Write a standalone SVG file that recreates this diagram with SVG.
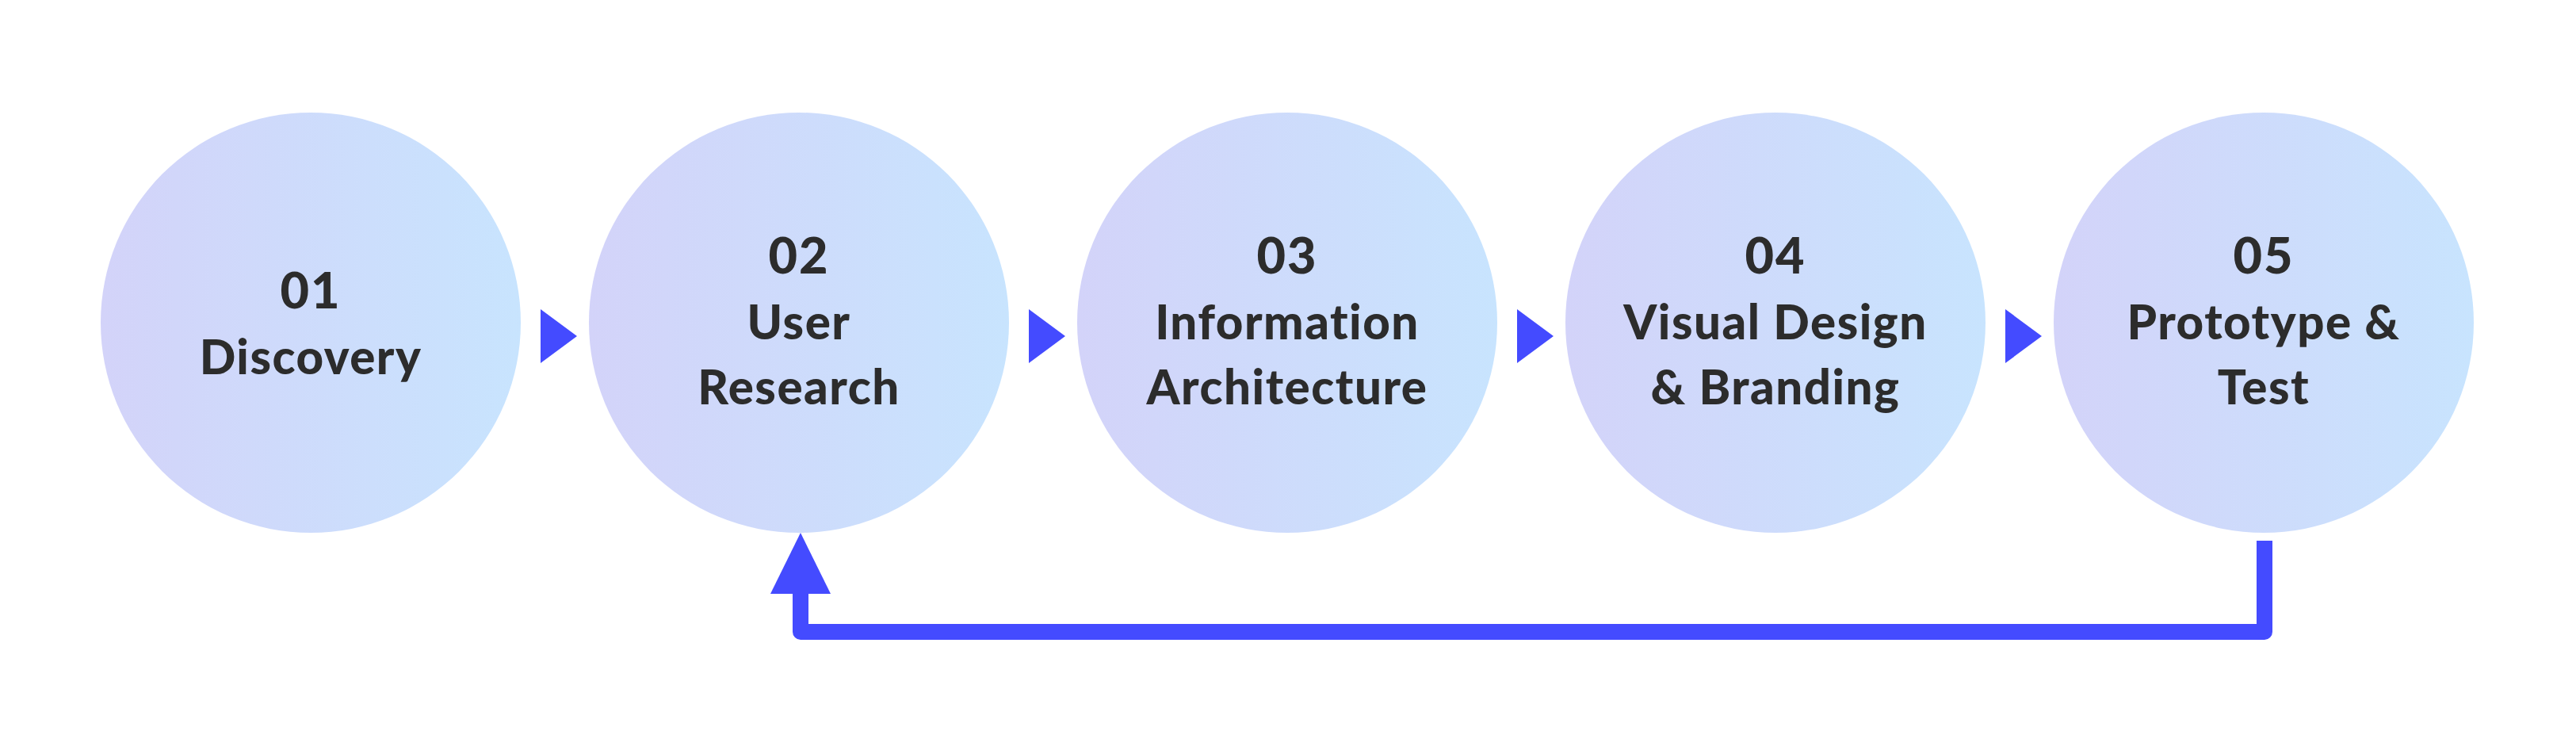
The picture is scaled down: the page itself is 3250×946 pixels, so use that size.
<svg xmlns="http://www.w3.org/2000/svg" width="3250" height="946" viewBox="0 0 3250 946">
  <defs>
    <linearGradient id="g" x1="0" y1="0" x2="1" y2="0">
      <stop offset="0" stop-color="#d3d3f9"/>
      <stop offset="1" stop-color="#c8e4fe"/>
    </linearGradient>
    <style>
      .c { fill: url(#g); }
      .num { font-family: Lato, "Liberation Sans", sans-serif; font-weight: 900; font-size: 63px; fill: #2c2c2c; text-anchor: middle; letter-spacing: 2px; }
      .lbl { font-family: Lato, "Liberation Sans", sans-serif; font-weight: 900; font-size: 60px; fill: #2c2c2c; text-anchor: middle; letter-spacing: 1.5px; }
      .arr { fill: #444bff; }
      .ln { fill: none; stroke: #444bff; stroke-width: 20; stroke-linejoin: round; }
    </style>
  </defs>
  <rect width="3250" height="946" fill="#ffffff"/>
  <g id="node1">
    <circle class="c" cx="392" cy="407" r="265"/>
    <text class="num" x="392" y="389">01</text>
    <text class="lbl" x="392" y="472">Discovery</text>
  </g>
  <g id="node2">
    <circle class="c" cx="1008" cy="407" r="265"/>
    <text class="num" x="1008" y="345">02</text>
    <text class="lbl" x="1008" y="428">User</text>
    <text class="lbl" x="1008" y="510">Research</text>
  </g>
  <g id="node3">
    <circle class="c" cx="1624" cy="407" r="265"/>
    <text class="num" x="1624" y="345">03</text>
    <text class="lbl" x="1624" y="428">Information</text>
    <text class="lbl" x="1624" y="510">Architecture</text>
  </g>
  <g id="node4">
    <circle class="c" cx="2240" cy="407" r="265"/>
    <text class="num" x="2240" y="345">04</text>
    <text class="lbl" x="2240" y="428">Visual Design</text>
    <text class="lbl" x="2240" y="510">&amp; Branding</text>
  </g>
  <g id="node5">
    <circle class="c" cx="2856" cy="407" r="265"/>
    <text class="num" x="2856" y="345">05</text>
    <text class="lbl" x="2856" y="428">Prototype &amp;</text>
    <text class="lbl" x="2856" y="510">Test</text>
  </g>
  <g id="connectors">
    <polygon class="arr" points="682,390 728,424 682,458"/>
    <polygon class="arr" points="1298,390 1344,424 1298,458"/>
    <polygon class="arr" points="1914,390 1960,424 1914,458"/>
    <polygon class="arr" points="2530,390 2576,424 2530,458"/>
    <polyline class="ln" points="2857,682 2857,797 1010,797 1010,745"/>
    <polygon class="arr" points="1010,672 1048,749 972,749"/>
  </g>
</svg>
